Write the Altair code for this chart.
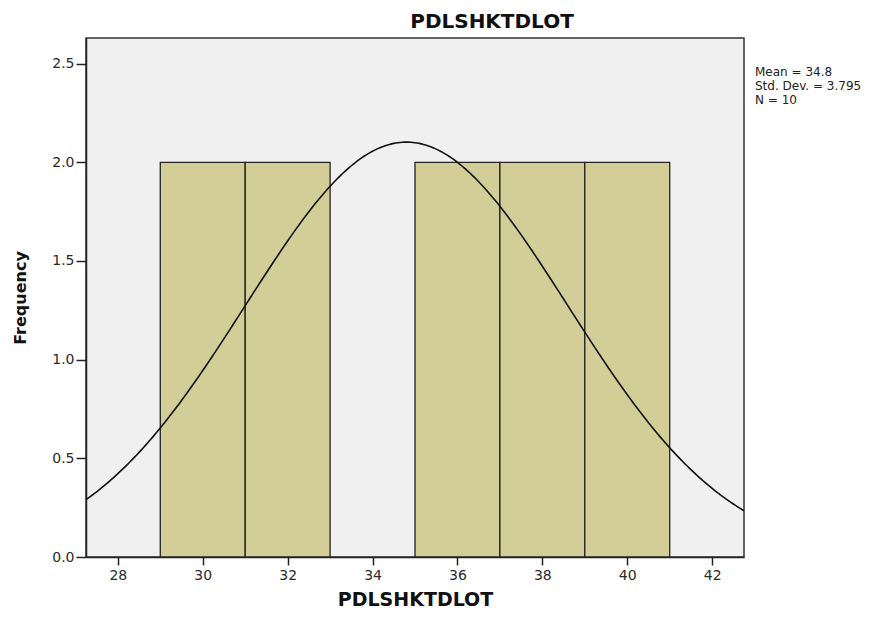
import altair as alt
import pandas as pd
import numpy as np

# Data
bin_start = [29, 31, 33, 35, 37, 39]
bin_end = [31, 33, 35, 37, 39, 41]
counts = [2, 2, 0, 2, 2, 2]
mean_val = 34.8
sd_val = 3.795
n_val = 10
bin_width = 2
x_ticks = [28, 30, 32, 34, 36, 38, 40, 42]
y_ticks = [0.0, 0.5, 1.0, 1.5, 2.0, 2.5]
stats_lines = ["Mean = 34.8", "Std. Dev. = 3.795", "N = 10"]

bars = pd.DataFrame({"start": bin_start, "end": bin_end, "count": counts})
bars = bars[bars["count"] > 0]

xs = np.linspace(27.25, 42.75, 311)
curve = pd.DataFrame({"x": xs})

FONT = "DejaVu Sans"
xscale = alt.Scale(domain=[27.25, 42.75], nice=False, zero=False)
yscale = alt.Scale(domain=[0, 2.63], nice=False)

base_x_axis = alt.Axis(values=x_ticks, title="PDLSHKTDLOT", grid=False, tickSize=8,
                       labelFontSize=14, labelColor="#2a2a2a", titleFontSize=19,
                       titleFontWeight="bold", titleColor="#111111", titlePadding=8,
                       domainColor="#222222", tickColor="#222222", labelPadding=3,
                       tickWidth=1.5, domainWidth=1.5)
base_y_axis = alt.Axis(values=y_ticks, format=".1f", title="Frequency", grid=False, tickSize=10,
                       labelFontSize=14, labelColor="#2a2a2a", titleFontSize=16,
                       titleFontWeight="bold", titleColor="#111111", titlePadding=23,
                       domainColor="#222222", tickColor="#222222", labelPadding=2,
                       tickWidth=1.5, domainWidth=1.5)

bar_layer = alt.Chart(bars).mark_rect(color="#d3ce98", stroke="#222222", strokeWidth=1.3).encode(
    x=alt.X("start:Q", scale=xscale, axis=base_x_axis),
    x2="end:Q",
    y=alt.Y("count:Q", scale=yscale, axis=base_y_axis),
    y2=alt.datum(0),
)

curve_layer = alt.Chart(curve).transform_calculate(
    y=f"{n_val * bin_width} * exp(-pow(datum.x - {mean_val}, 2) / (2 * pow({sd_val}, 2))) / ({sd_val} * sqrt(2 * PI))"
).mark_line(color="#111111", strokeWidth=1.6, clip=True).encode(
    x=alt.X("x:Q", scale=xscale),
    y=alt.Y("y:Q", scale=yscale),
)

stat_layers = []
for i, line in enumerate(stats_lines):
    stat_layers.append(
        alt.Chart(pd.DataFrame({"t": [line]})).mark_text(
            align="left", baseline="middle", font=FONT, fontSize=12, color="#222222", clip=False
        ).encode(
            x=alt.value(669),
            y=alt.value(34 + 14 * i),
            text="t:N",
        )
    )

chart = alt.layer(bar_layer, curve_layer, *stat_layers).properties(
    width=658,
    height=519,
    autosize=alt.AutoSizeParams(type="none"),
    padding={"left": 78, "top": 30, "right": 140, "bottom": 54},
    background="white",
    title=alt.Title("PDLSHKTDLOT", fontSize=20, fontWeight="bold", font=FONT,
                    color="#111111", anchor="middle", dx=77, offset=6),
).configure_view(
    fill="#f0f0f0", stroke="#333333", strokeWidth=1.5
).configure_axis(
    labelFont=FONT, titleFont=FONT
)

chart.save("out.html", embed_options={"renderer": "svg", "actions": False})
